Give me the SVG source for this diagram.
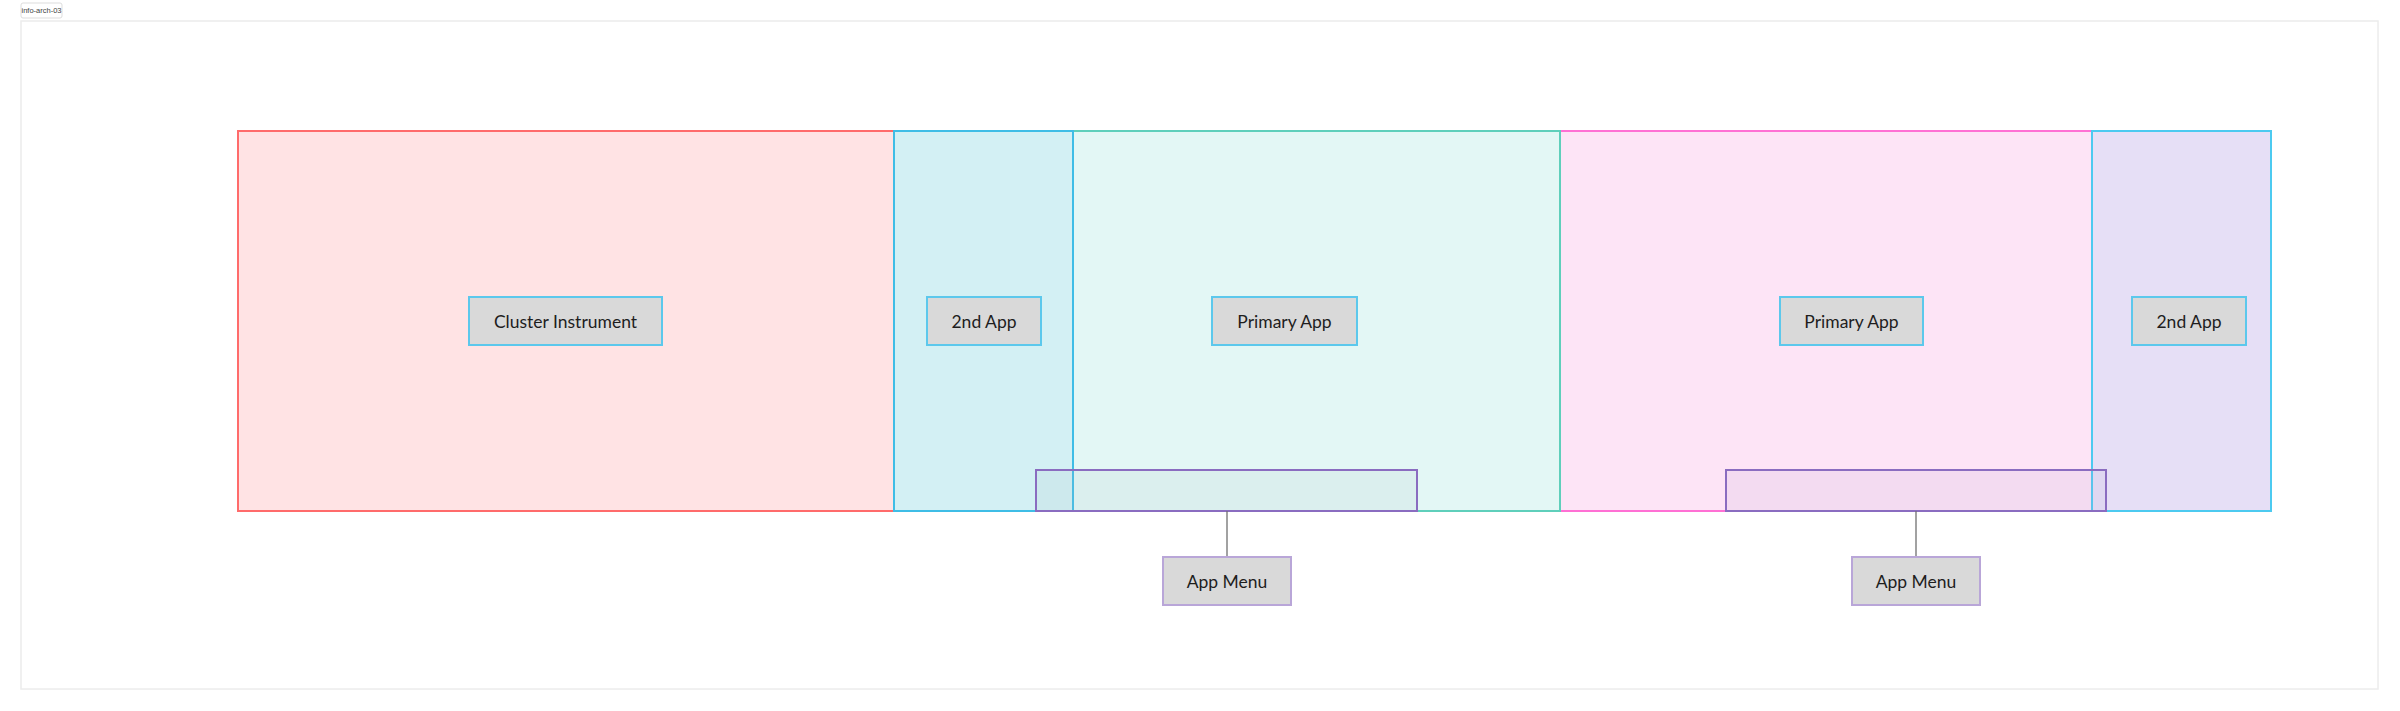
<svg xmlns="http://www.w3.org/2000/svg" width="2400" height="711" viewBox="0 0 2400 711">
<style>
.lbl{font-family:Lato,"Noto Sans","Liberation Sans",sans-serif;font-size:17.5px;fill:#1e1e1e;text-anchor:middle;dominant-baseline:central}
.node{fill:#d9d9d9;stroke:#5cc8ec;stroke-width:2}
.menu{fill:#d9d9d9;stroke:#b9a6d8;stroke-width:2}
.bar{stroke:#8a6cc0;stroke-width:2;fill-opacity:0.13}
.conn{stroke:#707070;stroke-width:1.3;fill:none}
</style>
<rect width="2400" height="711" fill="#fff"/>
<g id="frame">
<rect x="21" y="21" width="2357" height="668" fill="#fff" stroke="#ececec" stroke-width="1.5"/>
<rect x="21" y="3" width="41" height="15" rx="2" fill="#fff" stroke="#ddd" stroke-width="1"/>
<text x="41.5" y="10.5" style="font-family:'Liberation Sans',sans-serif;font-size:7.5px;fill:#444;text-anchor:middle;dominant-baseline:central">info-arch-03</text>
</g>
<g id="zone-cluster"><rect x="238" y="131" width="656" height="380" fill="#ffe3e4" stroke="#ff6b6b" stroke-width="2"/></g>
<g id="zone-primary-right"><rect x="1560" y="131" width="532" height="380" fill="#fde4f6" stroke="#ff70d4" stroke-width="2"/></g>
<g id="zone-primary-left"><rect x="1073" y="131" width="487" height="380" fill="#e3f7f5" stroke="#5fcfbb" stroke-width="2"/></g>
<g id="zone-second-left"><rect x="894" y="131" width="179" height="380" fill="#d3f0f4" stroke="#3fbde6" stroke-width="2"/></g>
<g id="zone-second-right"><rect x="2092" y="131" width="179" height="380" fill="#e6dff6" stroke="#4ccaf0" stroke-width="2"/></g>
<g id="menubar-left"><rect x="1036" y="470" width="381" height="41" fill="#a8bcc4" class="bar"/></g>
<g id="menubar-right"><rect x="1726" y="470" width="380" height="41" fill="#b4a0d0" class="bar"/></g>
<g id="connectors">
<line class="conn" x1="1227" y1="511" x2="1227" y2="557"/>
<line class="conn" x1="1916" y1="511" x2="1916" y2="557"/>
</g>
<g id="node-cluster"><rect class="node" x="469" y="297" width="193" height="48"/><text class="lbl" x="565.5" y="321">Cluster Instrument</text></g>
<g id="node-2nd-left"><rect class="node" x="927" y="297" width="114" height="48"/><text class="lbl" x="984" y="321">2nd App</text></g>
<g id="node-primary-left"><rect class="node" x="1212" y="297" width="145" height="48"/><text class="lbl" x="1284.5" y="321">Primary App</text></g>
<g id="node-primary-right"><rect class="node" x="1780" y="297" width="143" height="48"/><text class="lbl" x="1851.5" y="321">Primary App</text></g>
<g id="node-2nd-right"><rect class="node" x="2132" y="297" width="114" height="48"/><text class="lbl" x="2189" y="321">2nd App</text></g>
<g id="node-menu-left"><rect class="menu" x="1163" y="557" width="128" height="48"/><text class="lbl" x="1227" y="581">App Menu</text></g>
<g id="node-menu-right"><rect class="menu" x="1852" y="557" width="128" height="48"/><text class="lbl" x="1916" y="581">App Menu</text></g>
</svg>
